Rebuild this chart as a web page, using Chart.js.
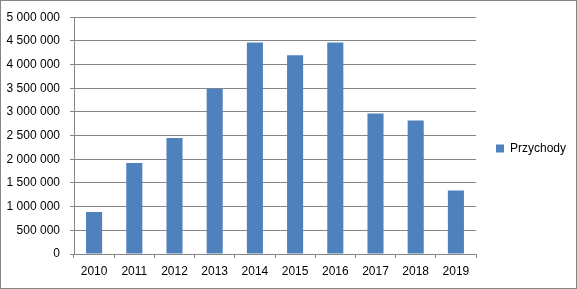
<!DOCTYPE html>
<html>
<head>
<meta charset="utf-8">
<script src="https://cdn.jsdelivr.net/npm/chart.js@4/dist/chart.umd.min.js"></script>
<style>
  html, body { margin: 0; padding: 0; background: #fff; }
  #wrap { width: 577px; height: 289px; }
</style>
</head>
<body>
<div id="wrap"><canvas id="c" width="577" height="289"></canvas></div>
<script>
const categories = ['2010','2011','2012','2013','2014','2015','2016','2017','2018','2019'];
const seriesName = 'Przychody';
const przychody = [888000, 1923000, 2448000, 3490000, 4465000, 4195000, 4465000, 2965000, 2820000, 1340000];
const yMin = 0;
const yMax = 5000000;
const yStep = 500000;

const GRID = '#868686';
const BAR = '#4F81BD';
const FONT = 'Liberation Sans, Arial, sans-serif';

function fmt(v) {
  return String(Math.round(v)).replace(/\B(?=(\d{3})+(?!\d))/g, ' ');
}

const framePlugin = {
  id: 'frame',
  afterInit(chart) {
    const lg = chart.legend;
    if (lg) {
      const orig = lg.fit;
      lg.fit = function () {
        orig.call(this);
        this.width = 101;
        this.minSize = { width: this.width, height: this.height };
      };
    }
  },
  afterDraw(chart) {
    const ctx = chart.ctx;
    ctx.save();
    ctx.strokeStyle = GRID;
    ctx.lineWidth = 1;
    ctx.strokeRect(0.5, 0.5, chart.width - 1, chart.height - 1);
    ctx.restore();
  }
};

new Chart(document.getElementById('c'), {
  type: 'bar',
  data: {
    labels: categories,
    datasets: [{
      label: seriesName,
      data: przychody,
      backgroundColor: BAR,
      borderWidth: 0,
      barPercentage: 0.4,
      categoryPercentage: 1.0
    }]
  },
  options: {
    responsive: false,
    animation: false,
    devicePixelRatio: 1,
    layout: { padding: { left: 0, right: 0, top: 8, bottom: 0 } },
    plugins: {
      legend: {
        position: 'right',
        align: 'center',
        labels: {
          boxWidth: 8,
          boxHeight: 8,
          padding: 20,
          color: '#000',
          font: { family: FONT, size: 12 }
        }
      },
      tooltip: { enabled: false }
    },
    scales: {
      x: {
        grid: {
          display: true,
          drawOnChartArea: false,
          drawTicks: true,
          tickLength: 4,
          color: GRID,
          offset: true
        },
        border: { display: true, color: GRID },
        ticks: {
          color: '#000',
          padding: 6,
          maxRotation: 0,
          font: { family: FONT, size: 12 }
        },
        afterFit(scale) { scale.height = 289 - 254; }
      },
      y: {
        min: yMin,
        max: yMax,
        grid: {
          color: GRID,
          drawTicks: true,
          tickLength: 4
        },
        border: { display: true, color: GRID },
        ticks: {
          stepSize: yStep,
          color: '#000',
          padding: 10,
          font: { family: FONT, size: 12 },
          callback: (v) => fmt(v)
        },
        afterFit(scale) { scale.width = 74; }
      }
    }
  },
  plugins: [framePlugin]
});
</script>
</body>
</html>
